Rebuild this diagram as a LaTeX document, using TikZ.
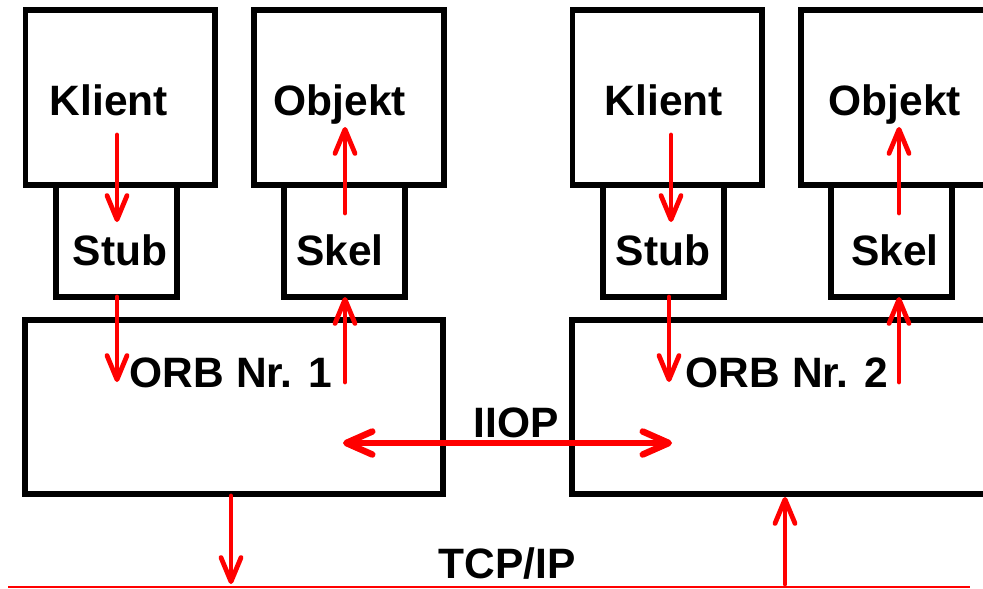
\documentclass[tikz,border=0pt]{standalone}
\usepackage{fontspec}
\setmainfont{Liberation Sans}
\usetikzlibrary{arrows.meta}
\begin{document}
\begin{tikzpicture}[x=1pt,y=-1pt,
  box/.style={draw=black,line width=5.5pt,inner sep=0pt,fill=white},
  lbl/.style={anchor=base,inner sep=0pt,font=\fontsize{42.5}{50}\selectfont\bfseries},
  arr/.style={draw=red,line width=4.8pt,line cap=round,-{Straight Barb[length=24pt,width=20pt,round]}},
  darr/.style={draw=red,line width=6.5pt,line cap=round,{Straight Barb[length=26pt,width=23pt,round]}-{Straight Barb[length=26pt,width=23pt,round]}},
  net/.style={draw=red,line width=2.4pt}]
\useasboundingbox (0,0) rectangle (983,589);
\clip (0,0) rectangle (983,589);
% left side
\node[box,minimum width=189.5pt,minimum height=175pt] (klient1) at (120.25,97.5) {};
\node[box,minimum width=190pt,minimum height=175pt] (objekt1) at (349,97.5) {};
\node[box,minimum width=121pt,minimum height=112pt] (stub1) at (116.5,241) {};
\node[box,minimum width=121pt,minimum height=112pt] (skel1) at (344.5,241) {};
\node[box,minimum width=418pt,minimum height=174pt] (orb1) at (234,407) {};
% right side
\node[box,minimum width=189.5pt,minimum height=175pt] (klient2) at (667.25,97.5) {};
\node[box,minimum width=190pt,minimum height=175pt] (objekt2) at (896,97.5) {};
\node[box,minimum width=121pt,minimum height=112pt] (stub2) at (663.5,241) {};
\node[box,minimum width=121pt,minimum height=112pt] (skel2) at (891.5,241) {};
\node[box,minimum width=418pt,minimum height=174pt] (orb2) at (781,407) {};
% labels
\node[lbl] (tk1) at (109,115) {Klient};
\node[lbl] (to1) at (340,115) {Objekt};
\node[lbl] (ts1) at (120,265) {Stub};
\node[lbl] (tsk1) at (340,265) {Skel};
\node[lbl] (tor1) at (231,387) {ORB Nr. 1};
\node[lbl] (tk2) at (664,115) {Klient};
\node[lbl] (to2) at (895,115) {Objekt};
\node[lbl] (ts2) at (663,265) {Stub};
\node[lbl] (tsk2) at (895,265) {Skel};
\node[lbl] (tor2) at (787,387) {ORB Nr. 2};
\node[lbl] (iiop) at (516,437) {IIOP};
\node[lbl] (tcp) at (507,578) {TCP/IP};
% connector end points
\coordinate (a1s) at (117,135); \coordinate (a1e) at (117,222);
\coordinate (b1s) at (345,213); \coordinate (b1e) at (345,127);
\coordinate (c1s) at (117,297); \coordinate (c1e) at (117,382);
\coordinate (d1s) at (345,382); \coordinate (d1e) at (345,297);
\coordinate (a2s) at (671,135); \coordinate (a2e) at (671,222);
\coordinate (b2s) at (899,213); \coordinate (b2e) at (899,127);
\coordinate (c2s) at (669,297); \coordinate (c2e) at (669,382);
\coordinate (d2s) at (899,382); \coordinate (d2e) at (899,297);
\coordinate (i1) at (343,443); \coordinate (i2) at (672,443);
\coordinate (o1s) at (231,496); \coordinate (o1e) at (231,584);
\coordinate (o2s) at (785,584); \coordinate (o2e) at (785,497);
\coordinate (n1) at (8,587); \coordinate (n2) at (970,587);
% arrows
\draw[arr] (a1s) -- (a1e);
\draw[arr] (b1s) -- (b1e);
\draw[arr] (c1s) -- (c1e);
\draw[arr] (d1s) -- (d1e);
\draw[arr] (a2s) -- (a2e);
\draw[arr] (b2s) -- (b2e);
\draw[arr] (c2s) -- (c2e);
\draw[arr] (d2s) -- (d2e);
\draw[darr] (i1) -- (i2);
\draw[arr] (o1s) -- (o1e);
\draw[arr] (o2s) -- (o2e);
\draw[net] (n1) -- (n2);
\end{tikzpicture}
\end{document}
